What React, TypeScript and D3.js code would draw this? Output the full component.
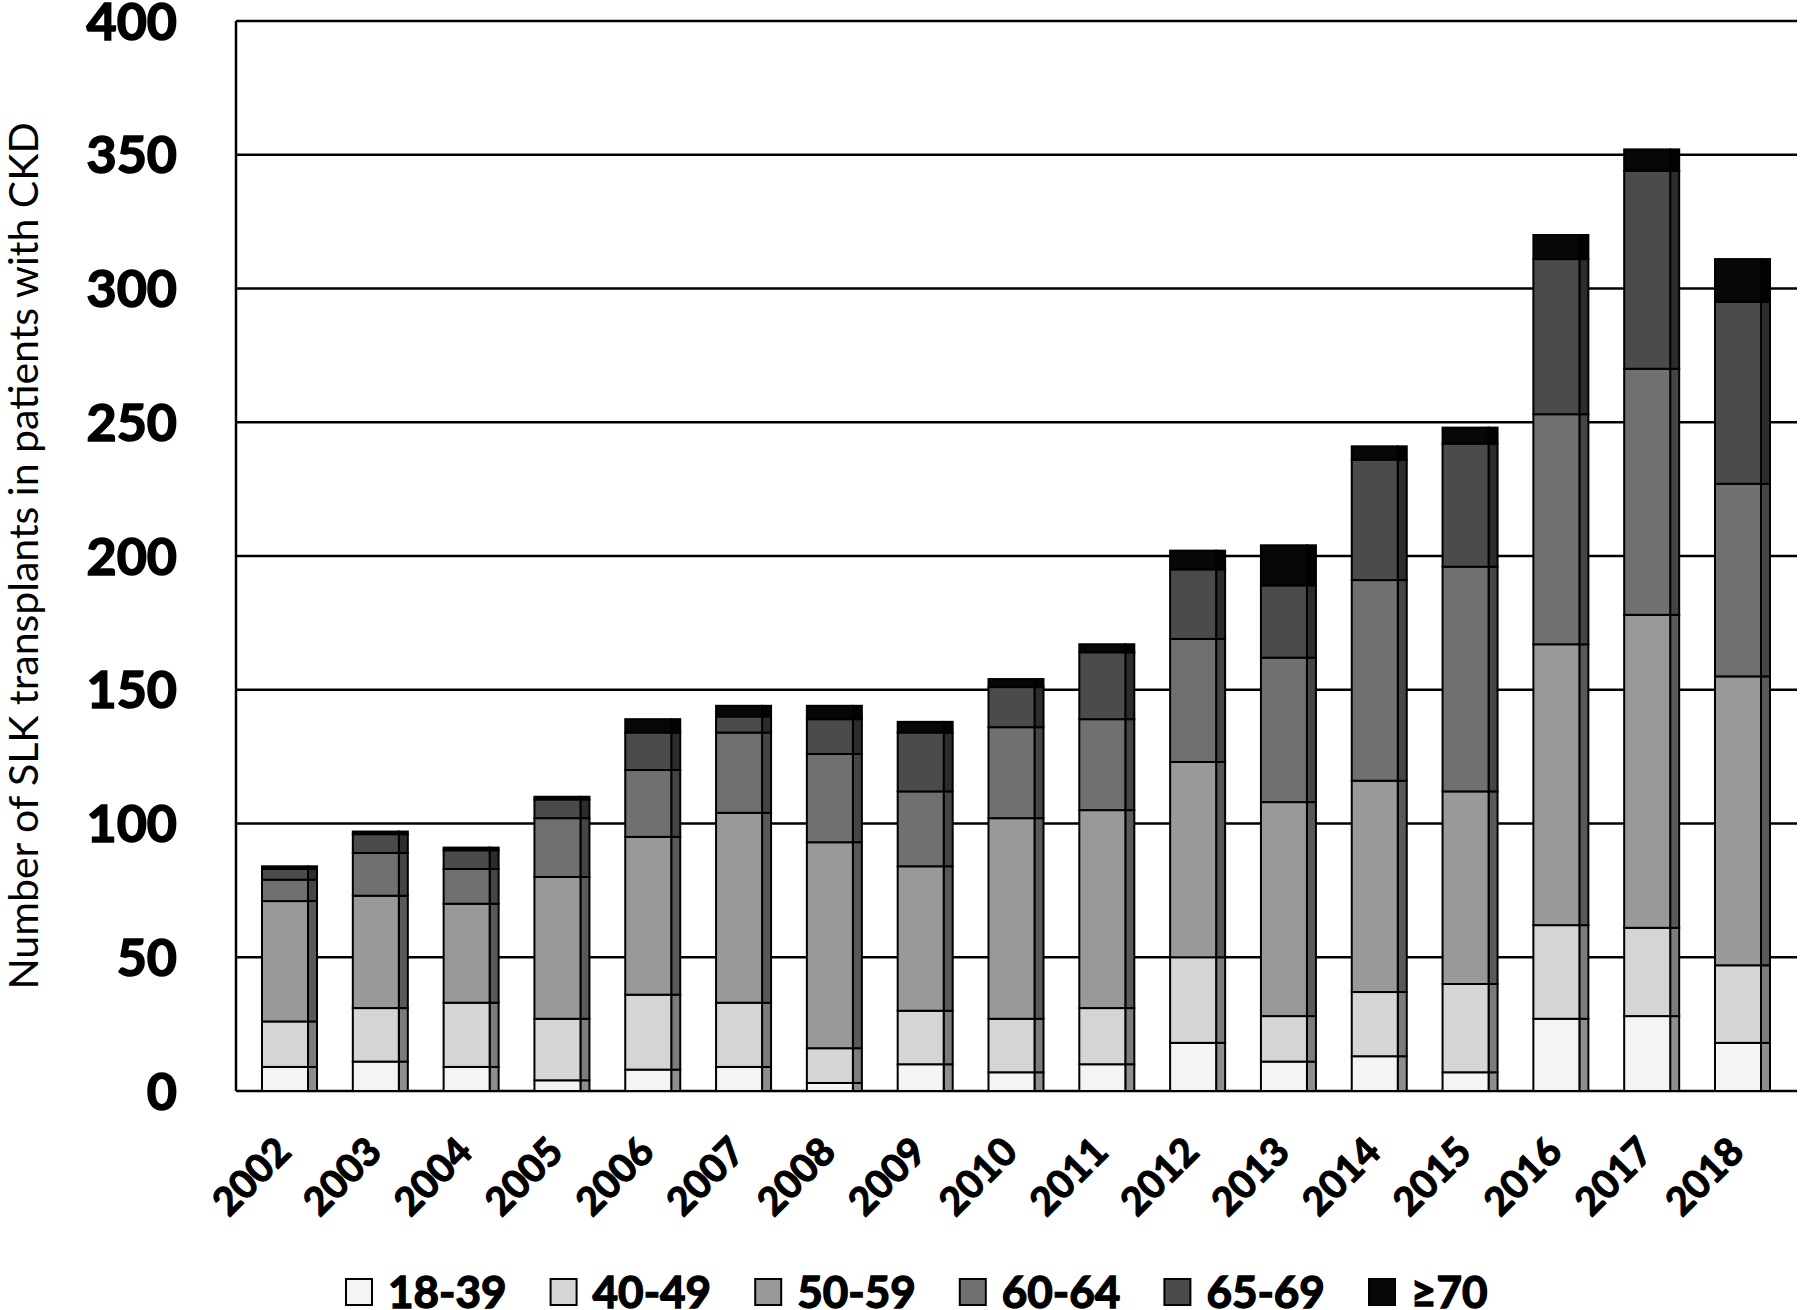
import React, { useRef, useEffect } from "react";
import * as d3 from "d3";

const years = ["2002", "2003", "2004", "2005", "2006", "2007", "2008", "2009", "2010", "2011", "2012", "2013", "2014", "2015", "2016", "2017", "2018"];
const ageGroups = ["18-39", "40-49", "50-59", "60-64", "65-69", "≥70"];

const age18to39 = [9, 11, 9, 4, 8, 9, 3, 10, 7, 10, 18, 11, 13, 7, 27, 28, 18];
const age40to49 = [17, 20, 24, 23, 28, 24, 13, 20, 20, 21, 32, 17, 24, 33, 35, 33, 29];
const age50to59 = [45, 42, 37, 53, 59, 71, 77, 54, 75, 74, 73, 80, 79, 72, 105, 117, 108];
const age60to64 = [8, 16, 13, 22, 25, 30, 33, 28, 34, 34, 46, 54, 75, 84, 86, 92, 72];
const age65to69 = [4, 7, 7, 7, 14, 6, 13, 22, 15, 25, 26, 27, 45, 46, 58, 74, 68];
const age70plus = [1, 1, 1, 1, 5, 4, 5, 4, 3, 3, 7, 15, 5, 6, 9, 8, 16];

const yTicks = [0, 50, 100, 150, 200, 250, 300, 350, 400];

const frontColors = ["#f4f4f4", "#d5d5d5", "#999999", "#707070", "#4b4b4b", "#070707"];
const sideColors = ["#8e8e8e", "#7c7c7c", "#595959", "#454545", "#2c2c2c", "#020202"];

const App = () => {
  const ref = useRef(null);

  useEffect(() => {
    const svg = d3.select(ref.current);
    svg.selectAll("*").remove();

    const left = 236;
    const right = 1797;
    const top = 21;
    const bottom = 1091;
    const sideW = 9;

    const table = years.map((yr, i) => ({
      year: yr,
      "18-39": age18to39[i],
      "40-49": age40to49[i],
      "50-59": age50to59[i],
      "60-64": age60to64[i],
      "65-69": age65to69[i],
      "≥70": age70plus[i]
    }));
    const stacked = d3.stack().keys(ageGroups)(table);

    const x = d3
      .scaleBand()
      .domain(years)
      .range([left, 1787])
      .paddingInner(0.4934)
      .paddingOuter(0.2863);
    const y = d3.scaleLinear().domain([0, 400]).range([bottom, top]);

    // grid lines
    svg
      .append("g")
      .selectAll("line")
      .data(yTicks)
      .enter()
      .append("line")
      .attr("x1", left)
      .attr("x2", right)
      .attr("y1", d => y(d))
      .attr("y2", d => y(d))
      .attr("stroke", "#000")
      .attr("stroke-width", 2.5);

    svg
      .append("line")
      .attr("x1", left)
      .attr("x2", left)
      .attr("y1", top)
      .attr("y2", bottom)
      .attr("stroke", "#000")
      .attr("stroke-width", 2.5);

    // y tick labels (stroke thickens Lato bold towards the heavier original)
    svg
      .append("g")
      .selectAll("text")
      .data(yTicks)
      .enter()
      .append("text")
      .attr("x", 177)
      .attr("y", d => y(d))
      .attr("dy", "0.36em")
      .attr("text-anchor", "end")
      .attr("stroke", "#000")
      .attr("stroke-width", 1.6)
      .style("font-family", "Lato, sans-serif")
      .style("font-weight", "bold")
      .style("font-size", "52px")
      .text(d => d);

    // y title
    svg
      .append("text")
      .attr("transform", `translate(23,${(top + bottom) / 2}) rotate(-90)`)
      .attr("dy", "0.36em")
      .attr("text-anchor", "middle")
      .style("font-family", "Lato, sans-serif")
      .style("font-size", "41px")
      .text("Number of SLK transplants in patients with CKD");

    // bars: front face + darker side face
    const layers = svg
      .append("g")
      .selectAll("g")
      .data(stacked)
      .enter()
      .append("g");

    layers
      .selectAll("rect.side")
      .data((d, k) => d.map(s => ({ s, k })))
      .enter()
      .append("rect")
      .attr("class", "side")
      .attr("x", d => x(d.s.data.year) + x.bandwidth())
      .attr("y", d => y(d.s[1]))
      .attr("width", sideW)
      .attr("height", d => y(d.s[0]) - y(d.s[1]))
      .attr("fill", d => sideColors[d.k])
      .attr("stroke", "#000")
      .attr("stroke-width", 2);

    layers
      .selectAll("rect.front")
      .data((d, k) => d.map(s => ({ s, k })))
      .enter()
      .append("rect")
      .attr("class", "front")
      .attr("x", d => x(d.s.data.year))
      .attr("y", d => y(d.s[1]))
      .attr("width", x.bandwidth())
      .attr("height", d => y(d.s[0]) - y(d.s[1]))
      .attr("fill", d => frontColors[d.k])
      .attr("stroke", "#000")
      .attr("stroke-width", 2);

    // x labels
    svg
      .append("g")
      .selectAll("text")
      .data(years)
      .enter()
      .append("text")
      .attr("transform", d => `translate(${x(d) + x.bandwidth() / 2 - 2},1144) rotate(-45)`)
      .attr("dy", "0.36em")
      .attr("text-anchor", "end")
      .attr("stroke", "#000")
      .attr("stroke-width", 1.2)
      .style("font-family", "Lato, sans-serif")
      .style("font-weight", "bold")
      .style("font-size", "39px")
      .text(d => d);

    // legend
    const legend = svg
      .append("g")
      .selectAll("g")
      .data(ageGroups)
      .enter()
      .append("g")
      .attr("transform", (d, i) => `translate(${345 + i * 204.6},1278)`);

    legend
      .append("rect")
      .attr("x", 1)
      .attr("y", 1)
      .attr("width", 26)
      .attr("height", 26)
      .attr("fill", (d, i) => frontColors[i])
      .attr("stroke", "#000")
      .attr("stroke-width", 2);

    legend
      .append("text")
      .attr("x", 43)
      .attr("y", 14)
      .attr("dy", "0.36em")
      .attr("stroke", "#000")
      .attr("stroke-width", 1.4)
      .style("font-family", "Lato, sans-serif")
      .style("font-weight", "bold")
      .style("font-size", "44px")
      .text(d => d);
  }, []);

  return (
    <svg
      ref={ref}
      width={1800}
      height={1310}
      style={{ position: "absolute", left: 0, top: 0, background: "#fff" }}
    />
  );
};

export default App;
